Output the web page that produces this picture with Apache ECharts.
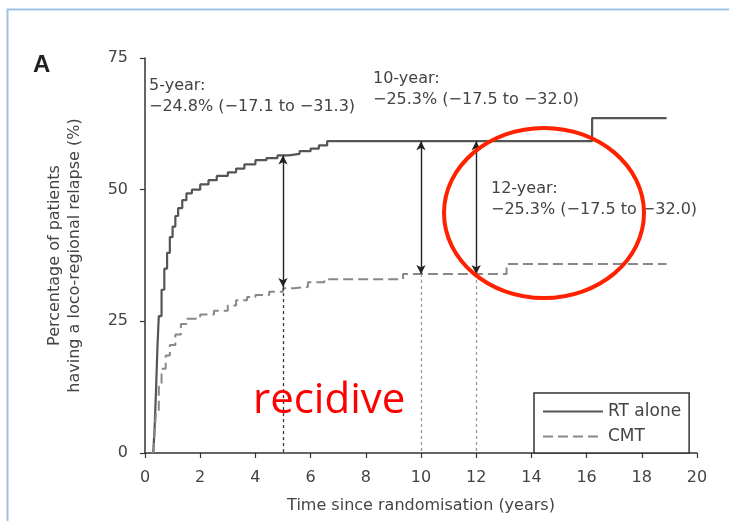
<!DOCTYPE html>
<html>
<head>
<meta charset="utf-8">
<script src="https://cdn.jsdelivr.net/npm/echarts@6/dist/echarts.min.js"></script>
<style>
html,body{margin:0;padding:0;background:#fff;}
#chart{width:729px;height:521px;}
</style>
</head>
<body>
<div id="chart"></div>
<script>
// ---- data ----
const xTicks = [0, 2, 4, 6, 8, 10, 12, 14, 16, 18, 20];
const yTicks = [0, 25, 50, 75];

const rtTime  = [0.3, 0.35, 0.4, 0.45, 0.5, 0.6, 0.7, 0.8, 0.9, 1.0, 1.1, 1.2, 1.35, 1.5, 1.7, 2.0, 2.3, 2.6, 3.0, 3.3, 3.6, 4.0, 4.4, 4.8, 5.2, 5.6, 6.0, 6.3, 6.6, 16.2, 18.9];
const rtValue = [0,   5,    12,  20,   26,  31,  35,  38,  41,  43,  45,  46.5, 48, 49.3, 50, 51, 51.8, 52.6, 53.3, 54, 54.8, 55.6, 56, 56.5, 56.8, 57.3, 57.8, 58.4, 59.2, 63.6, 63.6];

const cmtTime  = [0.3, 0.35, 0.4, 0.5, 0.6, 0.75, 0.9, 1.1, 1.3, 1.5, 2.0, 2.5, 3.0, 3.3, 3.7, 4.0, 4.5, 5.0, 5.4, 5.9, 6.5, 9.35, 13.1, 18.9];
const cmtValue = [0,   4,    8,   13,  16,  18.5, 20.5, 22.5, 24.5, 25.5, 26.3, 27, 28, 29, 29.6, 30, 30.6, 31.3, 31.5, 32.4, 33, 34, 35.9, 35.9];

const seriesNames = ['RT alone', 'CMT'];

const arrowYear   = [5, 10, 12];
const arrowTop    = [56.5, 59.2, 59.2];
const arrowBottom = [31.5, 34.0, 34.0];

const noteTitles = ['5-year:', '10-year:', '12-year:'];
const noteValues = ['\u221224.8% (\u221217.1 to \u221231.3)', '\u221225.3% (\u221217.5 to \u221232.0)', '\u221225.3% (\u221217.5 to \u221232.0)'];

const xTitle = 'Time since randomisation (years)';
const yTitle = 'Percentage of patients\nhaving a loco-regional relapse (%)';

// ---- chart ----
const FONT = 'DejaVu Sans';
const TXT = '#444';
const chart = echarts.init(document.getElementById('chart'), null, {renderer: 'canvas'});

const rtData = rtTime.map((t, i) => [t, rtValue[i]]);
const cmtData = cmtTime.map((t, i) => [t, cmtValue[i]]);

const arrowLines = arrowYear.map((x, i) => [{coord: [x, arrowTop[i]]}, {coord: [x, arrowBottom[i]]}]);
const dropLines = arrowYear.map((x, i) => [
  {coord: [x, arrowBottom[i]], lineStyle: {color: i === 0 ? '#333' : '#999', type: [3, 3], width: 1.3}},
  {coord: [x, 0]}
]);

const noteGraphics = [];
const notePos = [[149, 75], [373, 68], [491, 178]];
noteTitles.forEach((t, i) => {
  noteGraphics.push({
    type: 'text', left: notePos[i][0], top: notePos[i][1], z: 50,
    style: {text: t + '\n' + noteValues[i], font: '16px "' + FONT + '"', fill: TXT, lineHeight: 21}
  });
});

const option = {
  animation: false,
  backgroundColor: '#fff',
  grid: {left: 145, right: 32, top: 58, bottom: 68, containLabel: false},
  xAxis: {
    type: 'value', min: 0, max: 20, interval: 2,
    name: xTitle, nameLocation: 'middle', nameGap: 45,
    nameTextStyle: {fontFamily: FONT, fontSize: 16, color: TXT},
    axisLine: {show: true, lineStyle: {color: '#333', width: 1.5}},
    axisTick: {show: true, length: 5, lineStyle: {color: '#333', width: 1.2}},
    axisLabel: {fontFamily: FONT, fontSize: 16, color: TXT, margin: 17,
      formatter: v => xTicks.includes(v) ? String(v) : ''},
    splitLine: {show: false}
  },
  yAxis: {
    type: 'value', min: 0, max: 75, interval: 25,
    name: yTitle, nameLocation: 'middle', nameRotate: 90, nameGap: 60,
    nameTextStyle: {fontFamily: FONT, fontSize: 16, color: TXT, lineHeight: 20},
    axisLine: {show: true, lineStyle: {color: '#333', width: 1.5}},
    axisTick: {show: true, length: 5, lineStyle: {color: '#333', width: 1.2}},
    axisLabel: {fontFamily: FONT, fontSize: 16, color: TXT, margin: 17,
      formatter: v => yTicks.includes(v) ? String(v) : ''},
    splitLine: {show: false}
  },
  legend: {
    left: 534, top: 393, orient: 'vertical',
    itemWidth: 60, itemHeight: 14, itemGap: 8,
    padding: [10, 8, 8, 8],
    borderColor: '#333', borderWidth: 1.5, borderRadius: 0,
    backgroundColor: '#fff',
    itemStyle: {color: 'rgba(0,0,0,0)', borderWidth: 0, opacity: 0},
    textStyle: {fontFamily: FONT, fontSize: 17, color: TXT},
    data: seriesNames
  },
  series: [
    {
      name: seriesNames[0], type: 'line', step: 'end', data: rtData,
      symbol: 'none', z: 3,
      lineStyle: {color: '#555', width: 2.2},
      itemStyle: {color: '#555'},
      markLine: {
        silent: true, symbol: ['arrow', 'arrow'], symbolSize: [7, 9],
        label: {show: false},
        lineStyle: {color: '#222', type: 'solid', width: 1.4},
        data: arrowLines
      }
    },
    {
      name: seriesNames[1], type: 'line', step: 'end', data: cmtData,
      symbol: 'none', z: 3,
      lineStyle: {color: '#888', width: 2, type: [10, 5]},
      itemStyle: {color: '#888'},
      markLine: {
        silent: true, symbol: ['none', 'none'],
        label: {show: false},
        data: dropLines
      }
    }
  ],
  graphic: [
    {type: 'rect', left: 5, top: 7, z: 100, silent: true,
      shape: {x: 0, y: 0, width: 740, height: 540},
      style: {fill: 'none', stroke: '#9dc3e6', lineWidth: 2}},
    {type: 'text', left: 33, top: 53, z: 50,
      style: {text: 'A', font: 'bold 24px "Liberation Sans"', fill: '#222'}},
    {type: 'text', left: 253, top: 380, z: 50,
      style: {text: 'recidive', font: '42px "Open Sans"', fill: '#ff0000'}},
    {type: 'ellipse', z: 60, silent: true,
      shape: {cx: 544, cy: 213, rx: 100, ry: 85},
      style: {fill: 'none', stroke: '#ff2200', lineWidth: 4}}
  ].concat(noteGraphics)
};
chart.setOption(option);
</script>
</body>
</html>
